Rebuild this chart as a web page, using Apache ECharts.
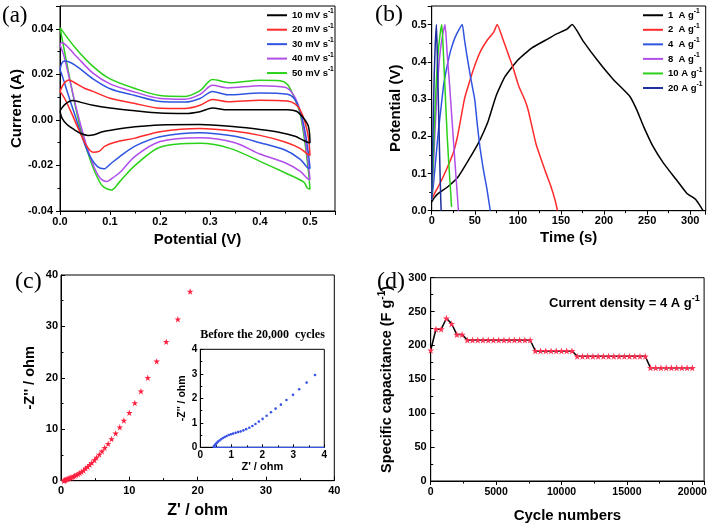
<!DOCTYPE html>
<html><head><meta charset="utf-8">
<script src="https://cdn.jsdelivr.net/npm/echarts@6/dist/echarts.min.js"></script>
<style>html,body{margin:0;padding:0;background:#fff}#c{width:709px;height:526px}</style>
</head><body><div id="c"></div>
<script>
// ---------- (a) CV curves: [potential V, current A] ----------
const cvNames = ['10 mV s-1', '20 mV s-1', '30 mV s-1', '40 mV s-1', '50 mV s-1'];
const cvColors = ['#000000', '#ff2a2a', '#2f55e0', '#b04ee8', '#2bd11a'];
const cv10 = [[0.000,0.0040],[0.010,0.0068],[0.025,0.0085],[0.040,0.0078],[0.066,0.0064],[0.100,0.0052],[0.150,0.0040],[0.200,0.0030],[0.250,0.0028],[0.280,0.0036],[0.305,0.0052],[0.335,0.0044],[0.400,0.0044],[0.455,0.0045],[0.473,0.0038],[0.487,0.0008],[0.497,-0.0030],[0.500,-0.0100],[0.495,-0.0098],[0.485,-0.0088],[0.470,-0.0072],[0.440,-0.0055],[0.400,-0.0042],[0.350,-0.0030],[0.280,-0.0020],[0.200,-0.0022],[0.150,-0.0030],[0.110,-0.0042],[0.085,-0.0052],[0.068,-0.0065],[0.056,-0.0068],[0.042,-0.0060],[0.028,-0.0042],[0.014,-0.0020],[0.004,0.0008],[0.000,0.0040]];
const cv20 = [[0.000,0.0125],[0.008,0.0160],[0.018,0.0175],[0.030,0.0162],[0.050,0.0138],[0.066,0.0125],[0.100,0.0095],[0.150,0.0072],[0.200,0.0051],[0.250,0.0050],[0.280,0.0064],[0.305,0.0090],[0.335,0.0080],[0.400,0.0086],[0.455,0.0083],[0.470,0.0070],[0.480,0.0045],[0.490,-0.0010],[0.497,-0.0080],[0.500,-0.0155],[0.495,-0.0150],[0.480,-0.0125],[0.450,-0.0097],[0.400,-0.0068],[0.350,-0.0050],[0.280,-0.0038],[0.200,-0.0052],[0.150,-0.0080],[0.110,-0.0098],[0.090,-0.0115],[0.078,-0.0138],[0.066,-0.0142],[0.052,-0.0110],[0.038,-0.0045],[0.022,0.0035],[0.009,0.0095],[0.000,0.0125]];
const cv30 = [[0.000,0.0220],[0.004,0.0250],[0.010,0.0258],[0.030,0.0240],[0.066,0.0180],[0.100,0.0137],[0.150,0.0107],[0.200,0.0081],[0.250,0.0078],[0.280,0.0094],[0.305,0.0125],[0.335,0.0110],[0.400,0.0118],[0.455,0.0113],[0.468,0.0095],[0.480,0.0040],[0.490,-0.0050],[0.497,-0.0150],[0.500,-0.0213],[0.495,-0.0210],[0.480,-0.0172],[0.450,-0.0132],[0.400,-0.0100],[0.350,-0.0072],[0.280,-0.0056],[0.200,-0.0074],[0.150,-0.0115],[0.120,-0.0160],[0.100,-0.0195],[0.088,-0.0215],[0.075,-0.0205],[0.060,-0.0160],[0.045,-0.0080],[0.030,0.0020],[0.015,0.0120],[0.005,0.0190],[0.000,0.0220]];
const cv40 = [[0.000,0.0330],[0.003,0.0340],[0.030,0.0285],[0.066,0.0205],[0.100,0.0158],[0.150,0.0122],[0.200,0.0094],[0.250,0.0091],[0.280,0.0112],[0.305,0.0152],[0.335,0.0140],[0.400,0.0150],[0.450,0.0143],[0.467,0.0110],[0.480,0.0040],[0.490,-0.0080],[0.497,-0.0200],[0.500,-0.0262],[0.495,-0.0258],[0.480,-0.0225],[0.450,-0.0188],[0.400,-0.0150],[0.350,-0.0100],[0.280,-0.0078],[0.200,-0.0095],[0.150,-0.0160],[0.120,-0.0230],[0.100,-0.0263],[0.094,-0.0270],[0.080,-0.0255],[0.065,-0.0190],[0.050,-0.0090],[0.035,0.0030],[0.020,0.0170],[0.008,0.0280],[0.000,0.0330]];
const cv50 = [[0.000,0.0405],[0.030,0.0318],[0.066,0.0235],[0.100,0.0180],[0.150,0.0138],[0.200,0.0107],[0.250,0.0103],[0.280,0.0128],[0.305,0.0177],[0.340,0.0163],[0.400,0.0174],[0.440,0.0172],[0.455,0.0155],[0.467,0.0105],[0.480,0.0030],[0.490,-0.0103],[0.497,-0.0230],[0.500,-0.0303],[0.495,-0.0300],[0.487,-0.0272],[0.450,-0.0232],[0.400,-0.0182],[0.340,-0.0125],[0.280,-0.0103],[0.200,-0.0120],[0.150,-0.0200],[0.120,-0.0270],[0.103,-0.0308],[0.085,-0.0290],[0.070,-0.0230],[0.055,-0.0140],[0.040,-0.0030],[0.025,0.0120],[0.010,0.0290],[0.000,0.0405]];

// ---------- (b) GCD curves: [time s, potential V] ----------
const gcdNames = ['1  A g-1', '2  A g-1', '4  A g-1', '8  A g-1', '10 A g-1', '20 A g-1'];
const gcdColors = ['#000000', '#ff2a2a', '#2f55e0', '#b04ee8', '#2bd11a', '#1f2f9e'];
const gcd1 = [[0,0.024],[3,0.035],[8,0.047],[19,0.065],[31,0.092],[43,0.137],[54,0.181],[60,0.210],[66,0.244],[75,0.310],[85,0.360],[100,0.405],[116,0.437],[132,0.458],[145,0.475],[157,0.488],[163,0.500],[176,0.455],[193,0.402],[211,0.352],[230,0.307],[238,0.271],[246,0.226],[257,0.172],[269,0.128],[284,0.083],[296,0.047],[306,0.031],[311,0.015],[315,0.000]];
const gcd2 = [[0,0.030],[3,0.045],[10,0.075],[17,0.110],[25,0.155],[30,0.200],[34,0.250],[38,0.300],[43,0.340],[50,0.390],[57,0.430],[65,0.460],[72,0.480],[76,0.500],[82,0.465],[89,0.420],[95,0.380],[101,0.335],[108,0.298],[112,0.270],[116,0.230],[121,0.180],[126,0.145],[132,0.105],[138,0.068],[143,0.030],[146,0.000]];
const gcd4 = [[0,0.030],[2,0.070],[4,0.120],[6,0.170],[8,0.220],[11,0.280],[14,0.340],[18,0.390],[22,0.430],[27,0.465],[32,0.488],[35.5,0.500],[38,0.460],[41,0.415],[45,0.360],[50,0.298],[53,0.230],[56,0.170],[60,0.110],[64,0.060],[68,0.000]];
const gcd8 = [[0,0.030],[2,0.120],[4,0.220],[6,0.310],[8,0.380],[10,0.430],[12.5,0.470],[15.5,0.500],[18,0.420],[21,0.330],[24,0.230],[27,0.130],[29.5,0.050],[31,0.000]];
const gcd10 = [[0,0.030],[1.5,0.120],[3,0.220],[5,0.330],[7,0.410],[9.5,0.470],[11.8,0.500],[14,0.400],[16,0.300],[18,0.200],[20,0.120],[22,0.050],[23,0.010]];
const gcd20 = [[0,0.030],[1,0.150],[2,0.270],[3,0.370],[4.2,0.450],[5.5,0.500],[6.5,0.420],[7.5,0.320],[8.5,0.220],[9.5,0.120],[10.5,0.030],[11,0.000]];

// ---------- (c) Nyquist: Z' and -Z'' (ohm) ----------
const nyqRe = [18.9,17.1,15.4,14.0,12.7,11.7,10.8,10.0,9.2,8.6,8.0,7.4,6.9,6.4,6.0,5.6,5.2,4.9,4.5,4.2,3.9,3.6,3.3,3.0,2.75,2.5,2.25,2.0,1.8,1.6,1.4,1.2,1.05,0.9,0.75,0.62,0.52,0.45,0.42];
const nyqIm = [36.8,31.4,27.0,23.2,20.0,17.4,15.1,13.2,11.7,10.4,9.2,8.1,7.2,6.4,5.7,5.1,4.5,4.0,3.5,3.1,2.7,2.4,2.0,1.75,1.5,1.3,1.1,0.95,0.8,0.68,0.58,0.5,0.42,0.33,0.25,0.17,0.1,0.04,0.0];
const insRe = [3.70,3.43,3.19,2.99,2.78,2.60,2.43,2.28,2.14,2.01,1.89,1.78,1.68,1.58,1.48,1.39,1.30,1.22,1.14,1.06,0.99,0.92,0.85,0.79,0.73,0.67,0.62,0.57,0.53,0.50,0.47,0.45,0.43];
const insIm = [2.95,2.64,2.37,2.14,1.93,1.74,1.58,1.43,1.29,1.16,1.05,0.95,0.87,0.80,0.74,0.69,0.65,0.62,0.59,0.56,0.53,0.50,0.46,0.42,0.38,0.33,0.28,0.23,0.18,0.13,0.09,0.05,0.02];
const insBase = [[0.43,0],[4,0]];

// ---------- (d) cycling ----------
const dCycles = [0,400,800,1200,1600,2000,2400,2800,3200,3600,4000,4400,4800,5200,5600,6000,6400,6800,7200,7600,8000,8400,8800,9200,9600,10000,10400,10800,11200,11600,12000,12400,12800,13200,13600,14000,14400,14800,15200,15600,16000,16400,16800,17200,17600,18000,18400,18800,19200,19600,20000];
const dCap = [193,224,224,240,232,216,216,208,208,208,208,208,208,208,208,208,208,208,208,208,192,192,192,192,192,192,192,192,184,184,184,184,184,184,184,184,184,184,184,184,184,184,167,167,167,167,167,167,167,167,167];

// ---------- chart ----------
const SANS = '"Liberation Sans", Arial, sans-serif';
const SERIF = '"Liberation Serif", "Times New Roman", serif';
const STAR = 'path://M50,0 L61.8,35.1 L98.9,35.1 L68.9,56.9 L80.3,92.1 L50,70.4 L19.7,92.1 L31.1,56.9 L1.1,35.1 L38.2,35.1 Z';

function axis(o) {
  const a = {
    type: 'value', gridIndex: o.grid, min: o.min, max: o.max, interval: o.interval,
    name: o.name, nameLocation: 'middle', nameGap: o.nameGap,
    nameTextStyle: Object.assign({color: '#000', fontFamily: SANS, fontWeight: 'bold', fontSize: o.nameSize || 15}, o.nameStyle || {}),
    axisLine: {show: true, onZero: false, lineStyle: {color: '#000', width: 1}},
    axisTick: {show: true, inside: !!o.inside, length: o.tickLen || 4, lineStyle: {color: '#000', width: 1}},
    minorTick: {show: true, splitNumber: 2, length: o.minorLen || 2.5, lineStyle: {color: '#000', width: 1}},
    splitLine: {show: false},
    axisLabel: {color: '#000', fontFamily: SANS, fontWeight: 'bold', fontSize: o.labelSize || 11, margin: o.margin,
                formatter: o.fmt || (v => String(v))}
  };
  if (o.hideMax) a.axisLabel.showMaxLabel = false;
  return a;
}
const f2 = v => (Math.abs(v) < 1e-9 ? 0 : v).toFixed(2);
const f1 = v => (Math.abs(v) < 1e-9 ? 0 : v).toFixed(1);

const supRich = (size) => ({
  n: {fontFamily: SANS, fontWeight: 'bold', fontSize: size, color: '#000', lineHeight: size + 5},
  s: {fontFamily: SANS, fontWeight: 'bold', fontSize: size * 0.7, color: '#000', verticalAlign: 'top', lineHeight: size * 0.7 + 1}
});
const supFmt = name => '{n|' + name.replace('-1', '') + '}{s|-1}';

const gridBase = {show: true, borderColor: '#000', borderWidth: 1, backgroundColor: '#fff', outerBoundsMode: 'none', containLabel: false};
const grids = [
  Object.assign({left: 60, top: 6, width: 275, height: 205}, gridBase),
  Object.assign({left: 431.7, top: 6, width: 274, height: 204.7}, gridBase),
  Object.assign({left: 61, top: 275, width: 273.3, height: 205.7}, gridBase),
  Object.assign({left: 200.3, top: 349.3, width: 124, height: 98}, gridBase),
  Object.assign({left: 430.7, top: 277.7, width: 273.4, height: 203.3}, gridBase)
];

const xAxes = [
  axis({grid: 0, min: 0, max: 0.55, interval: 0.1, name: 'Potential (V)', nameGap: 21, margin: 5, fmt: f1, hideMax: true}),
  axis({grid: 1, min: 0, max: 318, interval: 50, name: 'Time (s)', nameGap: 20, margin: 5, hideMax: true}),
  axis({grid: 2, min: 0, max: 40, interval: 10, name: "Z' / ohm", nameGap: 22, nameSize: 16, inside: true, margin: 5}),
  axis({grid: 3, min: 0, max: 4, interval: 1, name: "Z' / ohm", nameGap: 11, nameSize: 11, inside: true, labelSize: 10, margin: 3, tickLen: 3, minorLen: 2}),
  axis({grid: 4, min: 0, max: 20900, interval: 5000, name: 'Cycle numbers', nameGap: 27, margin: 6, labelSize: 10.5, hideMax: true})
];
const yAxes = [
  axis({grid: 0, min: -0.04, max: 0.05, interval: 0.02, name: 'Current (A)', nameGap: 33, margin: 7, fmt: f2, hideMax: true}),
  axis({grid: 1, min: 0, max: 0.55, interval: 0.1, name: 'Potential (V)', nameGap: 28, margin: 5, fmt: f1, hideMax: true}),
  axis({grid: 2, min: 0, max: 40, interval: 10, name: "-Z'' / ohm", nameGap: 24, nameSize: 14.5, inside: true, margin: 3}),
  axis({grid: 3, min: 0, max: 4, interval: 1, name: "-Z'' / ohm", nameGap: 10, nameSize: 10.5, inside: true, labelSize: 10, margin: 3, tickLen: 3, minorLen: 2}),
  axis({grid: 4, min: 0, max: 300, interval: 50, name: '{n|Specific capacitance (F g}{s|-1}{n|)}', nameGap: 34, margin: 4, inside: true,
        nameStyle: {rich: supRich(14.5)}})
];

const series = [];
[cv10, cv20, cv30, cv40, cv50].forEach((d, i) => series.push({
  type: 'line', name: cvNames[i], xAxisIndex: 0, yAxisIndex: 0, data: d, smooth: 0.3,
  symbol: 'none', lineStyle: {width: 1.5, color: cvColors[i]}, itemStyle: {color: cvColors[i]}, z: 5 - i
}));
[gcd1, gcd2, gcd4, gcd8, gcd10, gcd20].forEach((d, i) => series.push({
  type: 'line', name: gcdNames[i], xAxisIndex: 1, yAxisIndex: 1, data: d, smooth: 0.15,
  symbol: 'none', lineStyle: {width: 1.5, color: gcdColors[i]}, itemStyle: {color: gcdColors[i]}
}));
series.push({
  type: 'scatter', xAxisIndex: 2, yAxisIndex: 2, data: nyqRe.map((v, i) => [v, nyqIm[i]]),
  symbol: STAR, symbolSize: 6.5, itemStyle: {color: '#ff2040', opacity: 1}
});
series.push({
  type: 'line', xAxisIndex: 3, yAxisIndex: 3, data: insBase, symbol: 'none',
  lineStyle: {width: 1.2, color: '#3a55e6'}, z: 3
});
series.push({
  type: 'scatter', xAxisIndex: 3, yAxisIndex: 3, data: insRe.map((v, i) => [v, insIm[i]]),
  symbol: 'circle', symbolSize: 2.6, itemStyle: {color: '#3a55e6', opacity: 1}, z: 4
});
series.push({
  type: 'line', xAxisIndex: 4, yAxisIndex: 4, data: dCycles.map((c, i) => [c, dCap[i]]),
  symbol: STAR, symbolSize: 7, showSymbol: true, showAllSymbol: true,
  lineStyle: {width: 1.5, color: '#000'}, itemStyle: {color: '#ff3050', opacity: 1}
});

const legendBase = {
  orient: 'vertical', icon: 'rect', itemWidth: 20, itemHeight: 2,
  textStyle: {rich: supRich(9.5)}, formatter: supFmt, selectedMode: false, padding: 0
};

const option = {
  animation: false,
  backgroundColor: '#fff',
  grid: grids,
  xAxis: xAxes,
  yAxis: yAxes,
  legend: [
    Object.assign({left: 267, top: 8, itemGap: 2.2, data: cvNames}, legendBase),
    Object.assign({left: 643, top: 8, itemGap: 2.3, data: gcdNames}, legendBase)
  ],
  series: series,
  graphic: [
    {type: 'text', x: 2, y: 16, style: {text: '(a)', font: '23px ' + SERIF, fill: '#000', verticalAlign: 'middle'}},
    {type: 'text', x: 375, y: 15, style: {text: '(b)', font: '24px ' + SERIF, fill: '#000', verticalAlign: 'middle'}},
    {type: 'text', x: 15, y: 282, style: {text: '(c)', font: '24px ' + SERIF, fill: '#000', verticalAlign: 'middle'}},
    {type: 'text', x: 377, y: 282, style: {text: '(d)', font: '24px ' + SERIF, fill: '#000', verticalAlign: 'middle'}},
    {type: 'text', x: 262.5, y: 335, z: 100, style: {text: 'Before the 20,000  cycles', font: 'bold 12px ' + SERIF, fill: '#000', align: 'center', verticalAlign: 'middle'}},
    {type: 'text', x: 549, y: 303, z: 100, style: {text: '{n|Current density = 4 A g}{s|-1}', rich: supRich(13), align: 'left', verticalAlign: 'middle'}}
  ]
};

const chart = echarts.init(document.getElementById('c'), null, {renderer: 'canvas'});
chart.setOption(option);
</script></body></html>
